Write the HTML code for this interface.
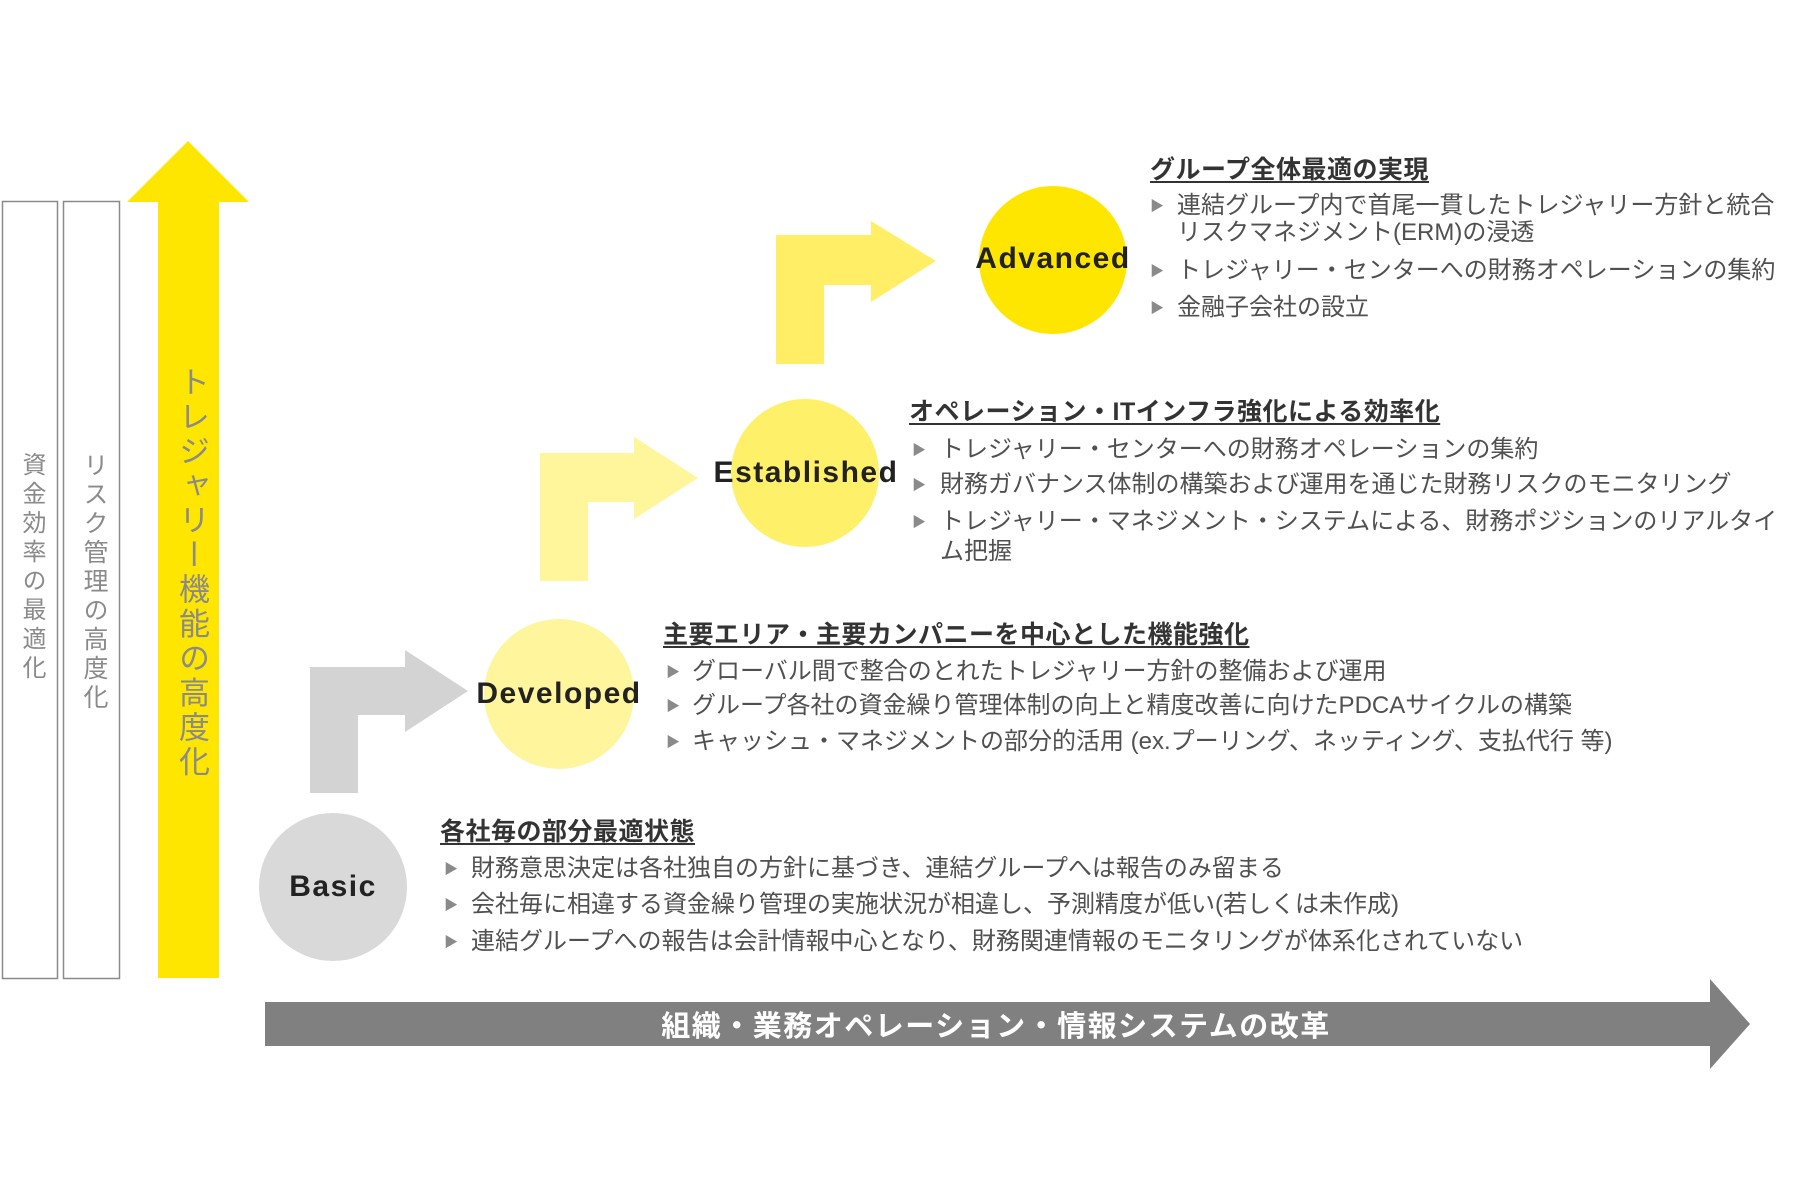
<!DOCTYPE html>
<html><head><meta charset="utf-8">
<style>
html,body{margin:0;padding:0;background:#fff;}
#c{position:relative;width:1800px;height:1200px;overflow:hidden;font-family:"Liberation Sans","Noto Sans CJK JP",sans-serif;}
.t{position:absolute;white-space:nowrap;font-size:24px;line-height:30px;color:#505050;}
.h{position:absolute;white-space:nowrap;font-size:25px;line-height:30px;font-weight:bold;color:#333;text-decoration:underline;text-underline-offset:3px;letter-spacing:0.5px;}
.b{position:absolute;font-size:14px;line-height:30px;color:#8a8a8a;}
.v{position:absolute;writing-mode:vertical-rl;color:#8a8a8a;white-space:nowrap;}
.cl{position:absolute;font-weight:bold;color:#222;font-size:30px;letter-spacing:1.5px;transform:translate(-50%,-50%);white-space:nowrap;}
</style></head><body><div id="c">
<svg width="1800" height="1200" style="position:absolute;left:0;top:0">
<rect x="2.5" y="201.5" width="55" height="777" fill="none" stroke="#8a8a8a" stroke-width="1.5"/>
<rect x="63.5" y="201.5" width="56" height="777" fill="none" stroke="#8a8a8a" stroke-width="1.5"/>
<polygon points="158,978 219,978 219,202 249,202 188,141 127,202 158,202" fill="#ffe600"/>
<polygon points="265,1002 1710,1002 1710,979 1750,1024 1710,1069 1710,1046 265,1046" fill="#808080"/>
<polygon points="310,793 358,793 358,715 405,715 405,732 468,691 405,650 405,667 310,667" fill="#d3d3d3"/>
<polygon points="540,581 588,581 588,502 634,502 634,519 698,478 634,437 634,453 540,453" fill="#fff59a"/>
<polygon points="776,364 824,364 824,285 871,285 871,302 936,261 871,221 871,235 776,235" fill="#ffee66"/>
<circle cx="333" cy="887" r="74" fill="#d9d9d9"/>
<circle cx="559" cy="694" r="75" fill="#fff59d"/>
<circle cx="805" cy="473" r="74" fill="#fff06a"/>
<circle cx="1053" cy="260" r="74" fill="#ffe600"/>
</svg>
<div class="v" style="left:14px;top:452px;font-size:24px;letter-spacing:5px;">資金効率の最適化</div>
<div class="v" style="left:76px;top:452px;font-size:25px;letter-spacing:4px;">リスク管理の高度化</div>
<div class="v" style="left:169px;top:366px;font-size:31px;letter-spacing:3.5px;">トレジャリー機能の高度化</div>

<div class="cl" style="left:333px;top:887px;">Basic</div>
<div class="cl" style="left:559px;top:694px;">Developed</div>
<div class="cl" style="left:806px;top:473px;">Established</div>
<div class="cl" style="left:1053px;top:259px;">Advanced</div>

<div style="position:absolute;left:996px;top:1024px;transform:translate(-50%,-50%);color:#fff;font-weight:bold;font-size:29px;letter-spacing:1.5px;white-space:nowrap;">組織・業務オペレーション・情報システムの改革</div>

<!-- Advanced -->
<div class="h" style="left:1150px;top:155px;">グループ全体最適の実現</div>
<div class="b" style="left:1150px;top:191px;">▶</div>
<div class="t" style="left:1177px;top:191px;">連結グループ内で首尾一貫したトレジャリー方針と統合</div>
<div class="t" style="left:1177px;top:218px;">リスクマネジメント(ERM)の浸透</div>
<div class="b" style="left:1150px;top:256px;">▶</div>
<div class="t" style="left:1177px;top:256px;">トレジャリー・センターへの財務オペレーションの集約</div>
<div class="b" style="left:1150px;top:293px;">▶</div>
<div class="t" style="left:1177px;top:293px;">金融子会社の設立</div>

<!-- Established -->
<div class="h" style="left:909px;top:397px;">オペレーション・ITインフラ強化による効率化</div>
<div class="b" style="left:912px;top:435px;">▶</div>
<div class="t" style="left:940px;top:435px;">トレジャリー・センターへの財務オペレーションの集約</div>
<div class="b" style="left:912px;top:470px;">▶</div>
<div class="t" style="left:940px;top:470px;">財務ガバナンス体制の構築および運用を通じた財務リスクのモニタリング</div>
<div class="b" style="left:912px;top:507px;">▶</div>
<div class="t" style="left:940px;top:507px;">トレジャリー・マネジメント・システムによる、財務ポジションのリアルタイ</div>
<div class="t" style="left:940px;top:537px;">ム把握</div>

<!-- Developed -->
<div class="h" style="left:663px;top:620px;">主要エリア・主要カンパニーを中心とした機能強化</div>
<div class="b" style="left:666px;top:657px;">▶</div>
<div class="t" style="left:692px;top:657px;">グローバル間で整合のとれたトレジャリー方針の整備および運用</div>
<div class="b" style="left:666px;top:691px;">▶</div>
<div class="t" style="left:692px;top:691px;">グループ各社の資金繰り管理体制の向上と精度改善に向けたPDCAサイクルの構築</div>
<div class="b" style="left:666px;top:727px;">▶</div>
<div class="t" style="left:692px;top:727px;">キャッシュ・マネジメントの部分的活用 (ex.プーリング、ネッティング、支払代行 等)</div>

<!-- Basic -->
<div class="h" style="left:440px;top:817px;">各社毎の部分最適状態</div>
<div class="b" style="left:444px;top:854px;">▶</div>
<div class="t" style="left:471px;top:854px;">財務意思決定は各社独自の方針に基づき、連結グループへは報告のみ留まる</div>
<div class="b" style="left:444px;top:890px;">▶</div>
<div class="t" style="left:471px;top:890px;">会社毎に相違する資金繰り管理の実施状況が相違し、予測精度が低い(若しくは未作成)</div>
<div class="b" style="left:444px;top:927px;">▶</div>
<div class="t" style="left:471px;top:927px;">連結グループへの報告は会計情報中心となり、財務関連情報のモニタリングが体系化されていない</div>
</div></body></html>
